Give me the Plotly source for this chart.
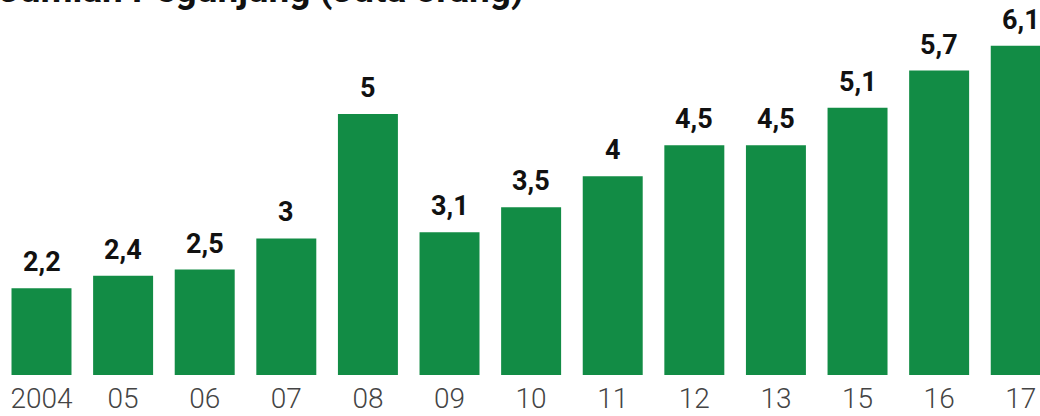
import plotly.graph_objects as go

years = ["2004", "05", "06", "07", "08", "09", "10", "11", "12", "13", "15", "16", "17"]
visitors = [2.2, 2.4, 2.5, 3, 5, 3.1, 3.5, 4, 4.5, 4.5, 5.1, 5.7, 6.1]
title_text = "Jumlah Pegunjung (Juta orang)"

BAR_COLOR = "#128c45"

fig = go.Figure(go.Bar(
    x=years, y=visitors,
    marker=dict(color=BAR_COLOR, line=dict(width=0)),
    hoverinfo="skip",
))

annotations = []
for i, v in enumerate(visitors):
    annotations.append(dict(
        x=i, y=v, xref="x", yref="y",
        text=f"{v:g}".replace(".", ","),
        showarrow=False, yanchor="bottom", yshift=8,
        font=dict(family="Roboto", size=27, color="#111111", weight="bold"),
    ))
annotations.append(dict(
    x=0, y=1, xref="paper", yref="paper", xanchor="left", yanchor="bottom",
    xshift=-3, yshift=-13, text=title_text, showarrow=False,
    font=dict(family="Roboto", size=37, color="#111111", weight="bold"),
))

fig.update_layout(
    width=1040, height=416,
    margin=dict(l=0, r=0, t=0, b=41, pad=0),
    plot_bgcolor="white", paper_bgcolor="white",
    bargap=0.265,
    showlegend=False,
    annotations=annotations,
    xaxis=dict(
        type="category", range=[-0.5086, 12.236],
        showgrid=False, zeroline=False, showline=False, ticks="",
        tickfont=dict(family="Roboto", size=28, color="#444444", weight=300),
        ticklabelstandoff=4,
    ),
    yaxis=dict(
        range=[0.805, 6.834], visible=False, showgrid=False, zeroline=False,
    ),
)

fig.write_html("out.html")
